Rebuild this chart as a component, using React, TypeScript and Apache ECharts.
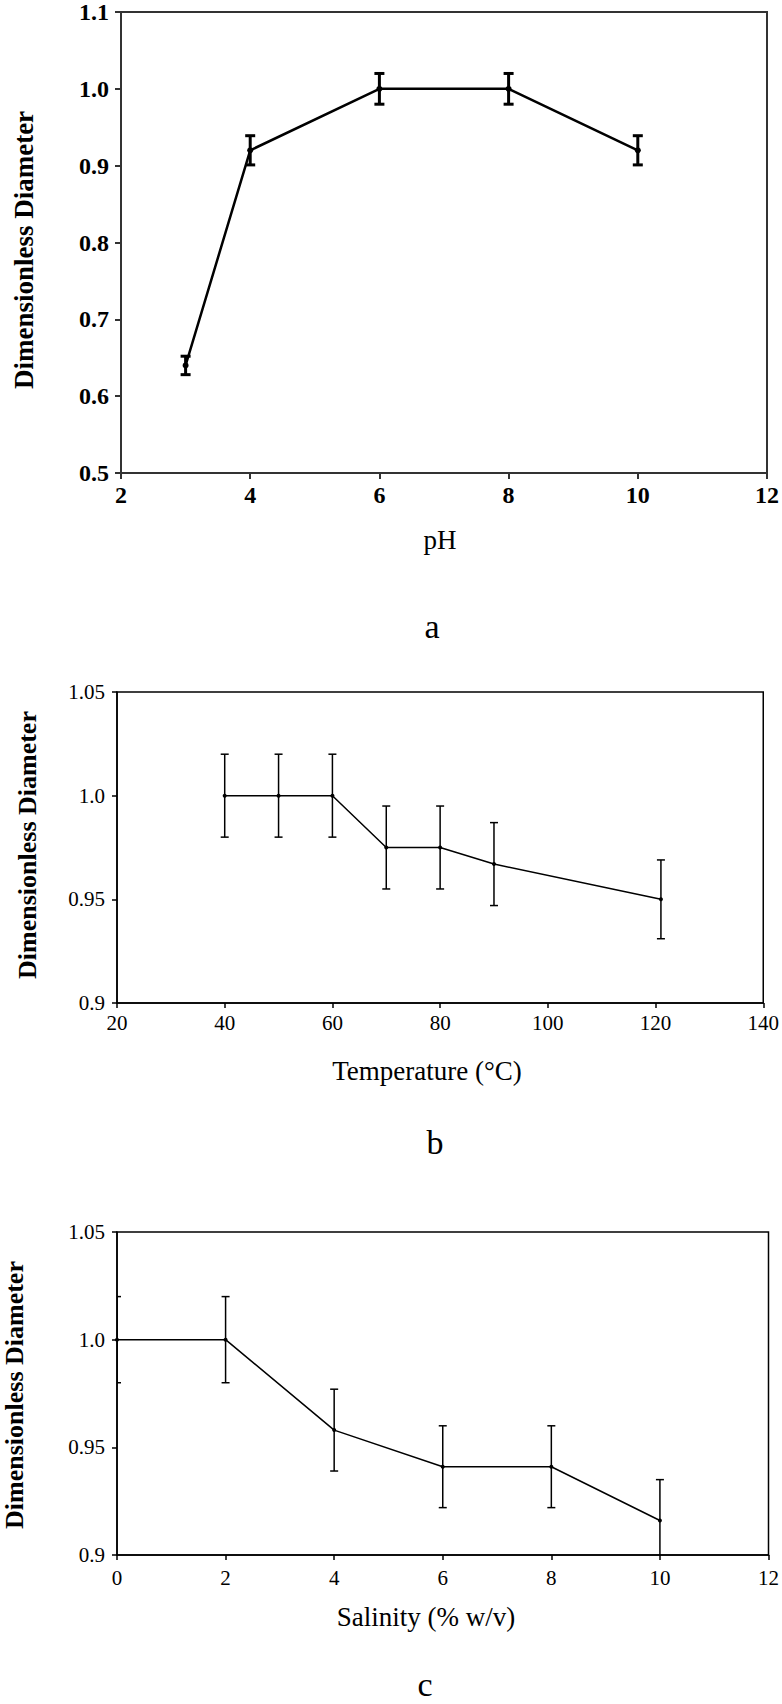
import React, { useEffect, useRef } from "react";
import * as echarts from "echarts";

// Panel a: pH
const phX = [3, 4, 6, 8, 10];
const phY = [0.64, 0.92, 1.0, 1.0, 0.92];
const phErr = [0.012, 0.019, 0.02, 0.02, 0.019];

// Panel b: temperature
const tempX = [40, 50, 60, 70, 80, 90, 121];
const tempY = [1.0, 1.0, 1.0, 0.975, 0.975, 0.967, 0.95];
const tempErr = [0.02, 0.02, 0.02, 0.02, 0.02, 0.02, 0.019];

// Panel c: salinity
const salX = [0, 2, 4, 6, 8, 10];
const salY = [1.0, 1.0, 0.958, 0.941, 0.941, 0.916];
const salErr = [0.02, 0.02, 0.019, 0.019, 0.019, 0.019];

const yName = "Dimensionless Diameter";
const panelLetters = ["a", "b", "c"];
const xNames = ["pH", "Temperature (°C)", "Salinity (% w/v)"];

const FONT = "Liberation Serif";

function errBars(idx: number, xs: number[], ys: number[], es: number[], lw: number, cap: number) {
  return {
    type: "custom",
    xAxisIndex: idx,
    yAxisIndex: idx,
    clip: true,
    z: 3,
    data: xs.map((x, i) => [x, ys[i] - es[i], ys[i] + es[i]]),
    renderItem: (params: any, api: any) => {
      const x = api.value(0);
      const top = api.coord([x, api.value(2)]);
      const bot = api.coord([x, api.value(1)]);
      const style = { stroke: "#000", lineWidth: lw };
      return {
        type: "group",
        children: [
          { type: "line", shape: { x1: top[0], y1: top[1], x2: bot[0], y2: bot[1] }, style },
          { type: "line", shape: { x1: top[0] - cap, y1: top[1], x2: top[0] + cap, y2: top[1] }, style },
          { type: "line", shape: { x1: bot[0] - cap, y1: bot[1], x2: bot[0] + cap, y2: bot[1] }, style },
        ],
      };
    },
  };
}

function lineSeries(idx: number, xs: number[], ys: number[], lw: number, size: number) {
  return {
    type: "line",
    xAxisIndex: idx,
    yAxisIndex: idx,
    data: xs.map((x, i) => [x, ys[i]]),
    symbol: "circle",
    symbolSize: size,
    showSymbol: true,
    itemStyle: { color: "#000" },
    lineStyle: { color: "#000", width: lw },
    z: 4,
  };
}

function fmt(v: number) {
  const s = String(Math.round(v * 100) / 100);
  return s.includes(".") ? s : s + ".0";
}

function txt(text: string, x: number, y: number, size: number, weight: string, rotate = 0) {
  return {
    type: "text",
    x,
    y,
    rotation: rotate,
    style: {
      text,
      fontFamily: FONT,
      fontSize: size,
      fontWeight: weight,
      fill: "#000",
      textAlign: "center",
      textVerticalAlign: "middle",
    },
  };
}

export default function App() {
  const ref = useRef<HTMLDivElement>(null);
  useEffect(() => {
    if (!ref.current) return;
    const chart = echarts.init(ref.current, undefined, { renderer: "svg" });
    const axisLine = (w: number, c: string) => ({ show: true, onZero: false, lineStyle: { color: c, width: w } });
    const option: any = {
      animation: false,
      backgroundColor: "#fff",
      textStyle: { fontFamily: FONT },
      grid: [
        { left: 121, top: 8, width: 650, height: 465, show: true, borderColor: "#333", borderWidth: 2, containLabel: false },
        { left: 117, top: 692, width: 653, height: 311, show: true, borderColor: "#000", borderWidth: 1.5, containLabel: false },
        { left: 117, top: 1232, width: 654, height: 323, show: true, borderColor: "#000", borderWidth: 1.5, containLabel: false },
      ],
      xAxis: [
        {
          gridIndex: 0, type: "value", min: 2, max: 12, interval: 2,
          axisLine: axisLine(2, "#333"),
          axisTick: { show: true, length: 6, lineStyle: { color: "#333", width: 2 } },
          axisLabel: { margin: 10, fontSize: 24, fontWeight: "bold", color: "#000", fontFamily: FONT, showMinLabel: true, showMaxLabel: true },
          splitLine: { show: false },
        },
        {
          gridIndex: 1, type: "value", min: 20, max: 140, interval: 20,
          axisLine: axisLine(1.5, "#000"),
          axisTick: { show: true, length: 5, lineStyle: { color: "#000", width: 1.5 } },
          axisLabel: { margin: 9, fontSize: 21, color: "#000", fontFamily: FONT, showMinLabel: true, showMaxLabel: true },
          splitLine: { show: false },
        },
        {
          gridIndex: 2, type: "value", min: 0, max: 12, interval: 2,
          axisLine: axisLine(1.5, "#000"),
          axisTick: { show: true, length: 5, lineStyle: { color: "#000", width: 1.5 } },
          axisLabel: { margin: 12, fontSize: 21, color: "#000", fontFamily: FONT, showMinLabel: true, showMaxLabel: true },
          splitLine: { show: false },
        },
      ],
      yAxis: [
        {
          gridIndex: 0, type: "value", min: 0.5, max: 1.1, interval: 0.1,
          axisLine: axisLine(2, "#333"),
          axisTick: { show: true, length: 6, lineStyle: { color: "#333", width: 2 } },
          axisLabel: { margin: 12, fontSize: 24, fontWeight: "bold", color: "#000", fontFamily: FONT, formatter: (v: number) => v.toFixed(1), showMinLabel: true, showMaxLabel: true },
          splitLine: { show: false },
        },
        {
          gridIndex: 1, type: "value", min: 0.9, max: 1.05, interval: 0.05,
          axisLine: axisLine(1.5, "#000"),
          axisTick: { show: true, length: 5, lineStyle: { color: "#000", width: 1.5 } },
          axisLabel: { margin: 12, fontSize: 21, color: "#000", fontFamily: FONT, formatter: fmt, showMinLabel: true, showMaxLabel: true },
          splitLine: { show: false },
        },
        {
          gridIndex: 2, type: "value", min: 0.9, max: 1.05, interval: 0.05,
          axisLine: axisLine(1.5, "#000"),
          axisTick: { show: true, length: 5, lineStyle: { color: "#000", width: 1.5 } },
          axisLabel: { margin: 12, fontSize: 21, color: "#000", fontFamily: FONT, formatter: fmt, showMinLabel: true, showMaxLabel: true },
          splitLine: { show: false },
        },
      ],
      series: [
        lineSeries(0, phX, phY, 2.5, 6),
        errBars(0, phX, phY, phErr, 3, 5),
        lineSeries(1, tempX, tempY, 1.5, 4),
        errBars(1, tempX, tempY, tempErr, 1.5, 4),
        lineSeries(2, salX, salY, 1.5, 4),
        errBars(2, salX, salY, salErr, 1.5, 4),
      ],
      graphic: [
        txt(yName, 24, 250, 27, "bold", Math.PI / 2),
        txt(yName, 27, 845, 26, "bold", Math.PI / 2),
        txt(yName, 14, 1395, 26, "bold", Math.PI / 2),
        txt(xNames[0], 440, 540, 27, "normal"),
        txt(xNames[1], 427, 1071, 27, "normal"),
        txt(xNames[2], 426, 1617, 27, "normal"),
        txt(panelLetters[0], 432, 626, 34, "normal"),
        txt(panelLetters[1], 435, 1142, 34, "normal"),
        txt(panelLetters[2], 425, 1684, 34, "normal"),
      ],
    };
    chart.setOption(option);
    return () => chart.dispose();
  }, []);
  return <div ref={ref} style={{ position: "absolute", left: 0, top: 0, width: 782, height: 1704, background: "#fff" }} />;
}
